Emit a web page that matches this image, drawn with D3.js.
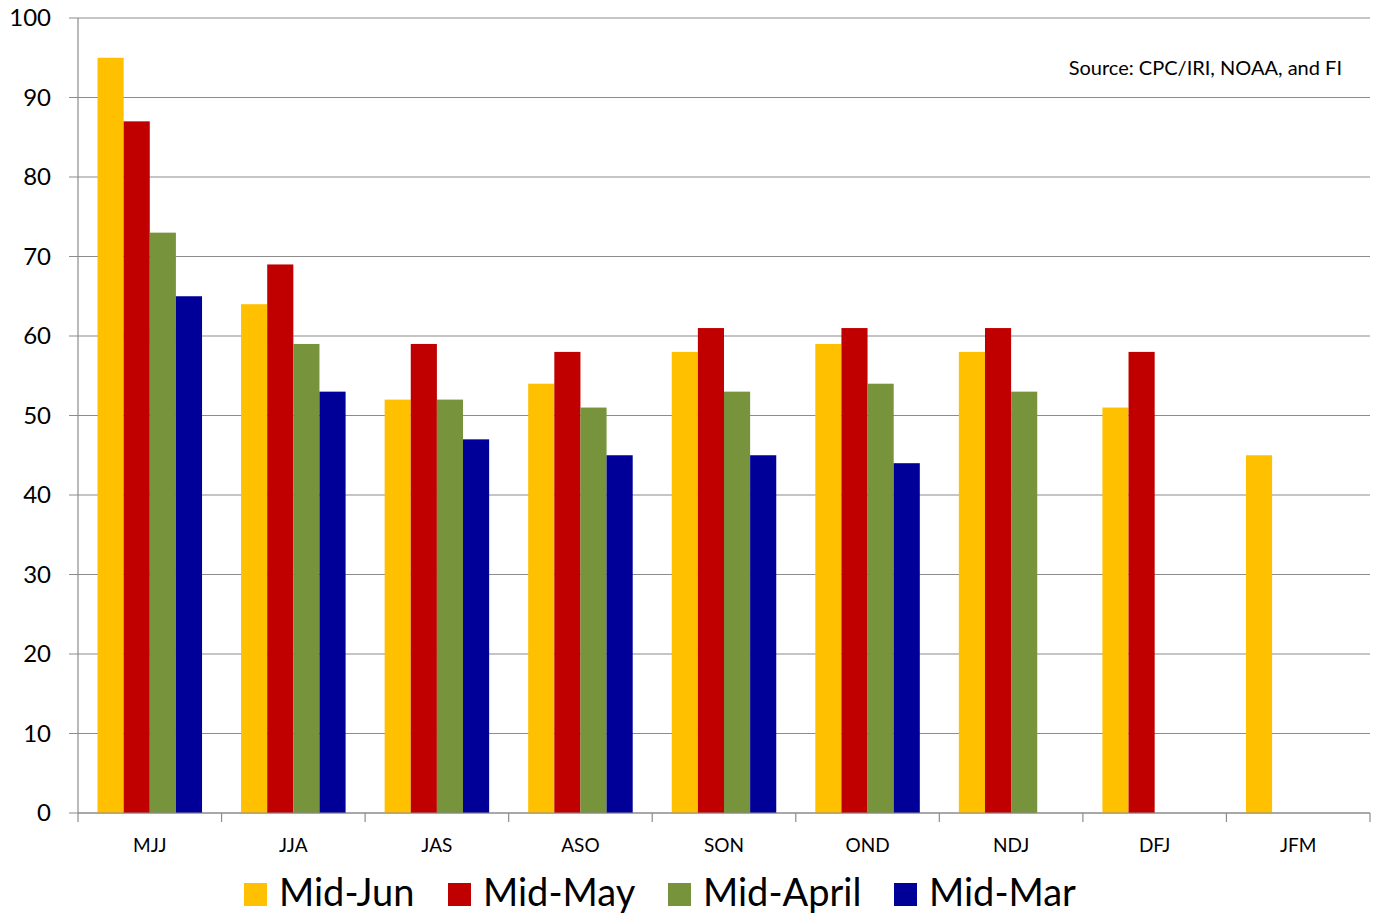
<!DOCTYPE html>
<html>
<head>
<meta charset="utf-8">
<script src="https://cdn.jsdelivr.net/npm/d3@7"></script>
<style>
  body { margin: 0; background: #fff; }
  svg { font-family: Lato, "Open Sans", sans-serif; }
</style>
</head>
<body>
<div class="chart"></div>
<script>
// Data
const categories = ["MJJ", "JJA", "JAS", "ASO", "SON", "OND", "NDJ", "DFJ", "JFM"];
const seriesNames = ["Mid-Jun", "Mid-May", "Mid-April", "Mid-Mar"];
const midJun = [95, 64, 52, 54, 58, 59, 58, 51, 45];
const midMay = [87, 69, 59, 58, 61, 61, 61, 58, null];
const midApril = [73, 59, 52, 51, 53, 54, 53, null, null];
const midMar = [65, 53, 47, 45, 45, 44, null, null, null];
const yTicks = [0, 10, 20, 30, 40, 50, 60, 70, 80, 90, 100];

const colors = ["#ffc000", "#c00000", "#77933c", "#000099"];
const seriesValues = [midJun, midMay, midApril, midMar];

// Measurements
const W = 1379, H = 918;
const margin = { top: 18, right: 9, bottom: 105, left: 78 };
const w = W - margin.left - margin.right;
const h = H - margin.top - margin.bottom;

const svg = d3
  .select(".chart")
  .append("svg")
  .attr("width", W)
  .attr("height", H);

const g = svg.append("g").attr("transform", `translate(${margin.left}, ${margin.top})`);

// Scales
const x0 = d3.scaleBand().domain(categories).range([0, w]).padding(0);
const x1 = d3
  .scaleBand()
  .domain(seriesNames)
  .range([x0.bandwidth() * 0.136, x0.bandwidth() * 0.864]);
const y = d3.scaleLinear().domain([0, 100]).range([h, 0]);

// Gridlines with left tick marks
g.selectAll(".grid")
  .data(yTicks)
  .enter()
  .append("line")
  .attr("x1", -9)
  .attr("x2", w)
  .attr("y1", (d) => y(d))
  .attr("y2", (d) => y(d))
  .attr("stroke", "#8c8c8c")
  .attr("stroke-width", 1.2);

g.selectAll(".ylab")
  .data(yTicks)
  .enter()
  .append("text")
  .attr("x", -27)
  .attr("y", (d) => y(d))
  .attr("dy", "0.35em")
  .attr("text-anchor", "end")
  .attr("font-size", 24)
  .attr("fill", "#000")
  .text((d) => d);

// Bars
seriesNames.forEach((name, si) => {
  const vals = seriesValues[si];
  g.append("g")
    .selectAll("rect")
    .data(categories.map((c, i) => ({ c, v: vals[i] })).filter((d) => d.v != null))
    .enter()
    .append("rect")
    .attr("x", (d) => x0(d.c) + x1(name))
    .attr("y", (d) => y(d.v))
    .attr("width", x1.bandwidth())
    .attr("height", (d) => h - y(d.v))
    .attr("fill", colors[si]);
});

// Axes lines
g.append("line")
  .attr("x1", 0).attr("x2", 0)
  .attr("y1", 0).attr("y2", h)
  .attr("stroke", "#8c8c8c").attr("stroke-width", 1.2);

g.append("line")
  .attr("x1", 0).attr("x2", w)
  .attr("y1", h).attr("y2", h)
  .attr("stroke", "#8c8c8c").attr("stroke-width", 1.2);

// X tick marks at category boundaries
const boundaries = categories.map((c) => x0(c)).concat([w]);
g.selectAll(".xtick")
  .data(boundaries)
  .enter()
  .append("line")
  .attr("x1", (d) => d).attr("x2", (d) => d)
  .attr("y1", h).attr("y2", h + 9)
  .attr("stroke", "#8c8c8c").attr("stroke-width", 1.2);

g.selectAll(".xlab")
  .data(categories)
  .enter()
  .append("text")
  .attr("x", (d) => x0(d) + x0.bandwidth() / 2)
  .attr("y", h + 39)
  .attr("text-anchor", "middle")
  .attr("font-size", 19)
  .attr("fill", "#000")
  .text((d) => d);

// Source note
svg.append("text")
  .attr("x", 1342)
  .attr("y", 75)
  .attr("text-anchor", "end")
  .attr("font-size", 20)
  .attr("fill", "#000")
  .text("Source: CPC/IRI, NOAA, and FI");

// Legend
const legendX = [244, 448, 668, 894];
const legend = svg.append("g").attr("class", "legend");
seriesNames.forEach((name, i) => {
  legend.append("rect")
    .attr("x", legendX[i])
    .attr("y", 883)
    .attr("width", 23)
    .attr("height", 23)
    .attr("fill", colors[i]);
  legend.append("text")
    .attr("x", legendX[i] + 35)
    .attr("y", 906)
    .attr("font-size", 38)
    .attr("fill", "#000")
    .text(name);
});
</script>
</body>
</html>
